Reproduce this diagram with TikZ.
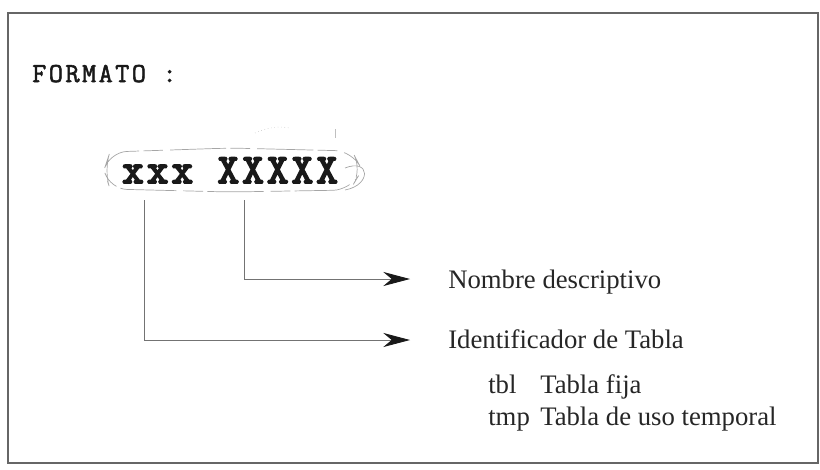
\documentclass[tikz,border=0pt]{standalone}
\usepackage{fontspec}
\setmainfont{Liberation Serif}
\newfontfamily\codefont{Latin Modern Mono}[FakeBold=4.5, LetterSpace=8]
\usetikzlibrary{arrows.meta}
\begin{document}
\begin{tikzpicture}[x=0.025cm, y=-0.025cm,
    lbl/.style={anchor=base west, inner sep=0pt, text=black!85, font=\fontsize{19}{21}\selectfont},
    code/.style={anchor=base west, inner sep=0pt, text=black!90},
    conn/.style={draw=black!55, line width=0.6pt, -{Stealth[length=19pt, width=10pt, inset=6pt, color=black!90]}}]
      \useasboundingbox (0,0) rectangle (820,469);
      \draw[black!60, line width=0.8pt] (8,13) rectangle (818,463);
      \node (title) at (32,82) [code, font=\codefont\addfontfeature{FakeBold=2, LetterSpace=9}\fontsize{19.5}{20}\selectfont] {FORMATO :};
      \node (fmt) at (122,183) [code, font=\codefont\fontsize{29.5}{30}\selectfont] {xxx XXXXX};
      % trazo a mano alrededor del formato
      \draw[black!35, line width=0.5pt, dash pattern=on 40pt off 3pt on 14pt off 5pt, rounded corners=12pt]
        (104,170) -- (110,152) -- (230,148) -- (352,151) -- (362,170) -- (350,190) -- (230,192) -- (110,189) -- cycle;
      \draw[black!35, line width=0.5pt] (345,168) .. controls (370,158) and (372,185) .. (345,190);
      \draw[black!25, line width=0.4pt, dotted] (255,133) .. controls (268,127) and (280,126) .. (290,128);
      \draw[black!25, line width=0.4pt] (335,129) -- (335,138);
      \coordinate (pre) at (144,200);
      \coordinate (desc) at (244,200);
      \coordinate (tipname) at (410,279);
      \coordinate (tipid) at (410,340);
      \node (name) at (448,288) [lbl] {Nombre descriptivo};
      \node (ident) at (448,348) [lbl] {Identificador de Tabla};
      \node (tbl) at (488,393) [lbl] {tbl};
      \node (tbltxt) at (540,393) [lbl] {Tabla fija};
      \node (tmp) at (488,425) [lbl] {tmp};
      \node (tmptxt) at (540,425) [lbl] {Tabla de uso temporal};
      \foreach \source/\dest in {desc/tipname, pre/tipid}
        \draw[conn] (\source) |- (\dest);
    \end{tikzpicture}
\end{document}
